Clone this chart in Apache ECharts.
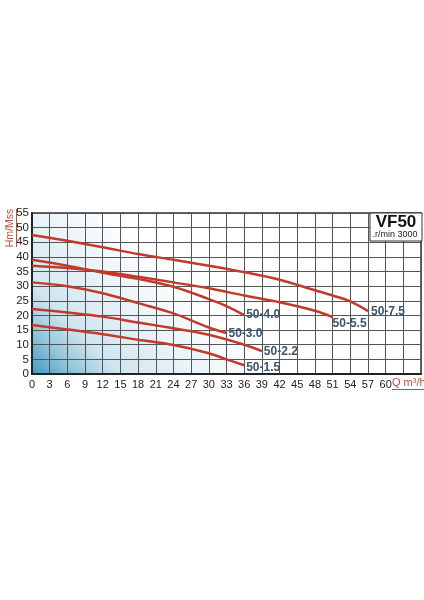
<!DOCTYPE html>
<html><head><meta charset="utf-8">
<script src="https://cdn.jsdelivr.net/npm/echarts@6/dist/echarts.min.js"></script>
<style>html,body{margin:0;padding:0;background:#fff}#c{width:424px;height:600px}</style>
</head><body><div id="c"></div>
<script>
const seriesNames = ['50-7.5','50-5.5','50-4.0','50-3.0','50-2.2','50-1.5'];
const q75 = [0,6,12,18,24,30,36,42,48,51,54,57];
const h75 = [47.5,45.5,43.3,41,39,37,34.8,32.2,28.6,26.8,24.8,21.5];
const q55 = [0,6,12,18,24,30,36,42,48,51];
const h55 = [37,36.2,35,33.2,31.3,29.3,26.8,24.5,21.6,19.4];
const q40 = [0,6,12,18,24,30,33,36];
const h40 = [39,37,34.6,32.5,29.8,25.6,23.2,20.1];
const q30 = [0,6,12,18,24,30,33];
const h30 = [31.3,30,27.6,24.2,20.7,15.9,14];
const q22 = [0,6,12,18,24,30,36,39];
const h22 = [22.2,21,19.6,17.6,15.6,13.4,10,7.8];
const q15 = [0,6,12,18,24,30,33,36];
const h15 = [16.7,15.2,13.6,11.7,9.9,7.1,5,3];
const xTickMax = 60;

const FONT = "'Liberation Sans','Arial',sans-serif";
const pairs = (q,h) => q.map((v,i)=>[v,h[i]]);
const sets = [[q75,h75],[q55,h55],[q40,h40],[q30,h30],[q22,h22],[q15,h15]];
const labelOffsets = [[1,1],[-2,6],[0,0],[0,1],[0,1],[0,2]];

const chart = echarts.init(document.getElementById('c'));
chart.setOption({
  animation:false,
  grid:{left:32,right:2,top:213,bottom:226,show:true,
    backgroundColor:{type:'linear',x:0,y:1,x2:0.31,y2:0.25,colorStops:[
      {offset:0,color:'#4597bb'},{offset:0.065,color:'#5aa8c8'},
      {offset:0.2,color:'#95c6dc'},{offset:0.37,color:'#cfe5ef'},
      {offset:0.68,color:'#e9f3f8'},{offset:1,color:'#ffffff'}]},
    borderColor:'#333',borderWidth:1.5},
  xAxis:{type:'value',min:0,max:66,interval:3,
    axisLine:{show:true,lineStyle:{color:'#222',width:2}},
    axisTick:{show:false},
    splitLine:{show:true,lineStyle:{color:'#555',width:1}},
    axisLabel:{color:'#222',fontFamily:FONT,fontSize:11,margin:5,
      formatter:v=> v>xTickMax ? '' : String(v)}},
  yAxis:{type:'value',min:0,max:55,interval:5,
    axisLine:{show:true,lineStyle:{color:'#222',width:2}},
    axisTick:{show:false},
    splitLine:{show:true,lineStyle:{color:'#555',width:1}},
    axisLabel:{color:'#222',fontFamily:FONT,fontSize:11.5,margin:3,hideOverlap:false}},
  series: sets.map((s,i)=>({
    type:'line',name:seriesNames[i],data:pairs(s[0],s[1]),
    smooth:0.35,symbol:'none',
    lineStyle:{color:'#c23a2c',width:2.5},
    endLabel:{show:true,formatter:seriesNames[i],color:'#3b5472',
      fontFamily:FONT,fontSize:12,fontWeight:'bold',distance:2,offset:labelOffsets[i]}
  })),
  graphic:[
    {type:'text',x:10,y:228,rotation:Math.PI/2,z:100,
      style:{text:'Hm/Mss',fill:'#b5503f',font:'10.5px '+FONT,align:'center',verticalAlign:'middle'}},
    {type:'line',z:100,shape:{x1:16.5,y1:209,x2:16.5,y2:247},style:{stroke:'#b5503f',lineWidth:1}},
    {type:'text',x:392,y:383,z:100,
      style:{text:'Q m³/h',fill:'#b5503f',font:'11px '+FONT,align:'left',verticalAlign:'middle'}},
    {type:'line',z:100,shape:{x1:392,y1:389.5,x2:424,y2:389.5},style:{stroke:'#b5503f',lineWidth:1}},
    {type:'rect',z:100,shape:{x:370,y:213,width:52,height:28},style:{fill:'#fff',stroke:'#333',lineWidth:1}},
    {type:'text',x:396,y:222.5,z:101,
      style:{text:'VF50',fill:'#111',font:'bold 17px '+FONT,align:'center',verticalAlign:'middle'}},
    {type:'text',x:395,y:235,z:101,
      style:{text:'.r/min 3000',fill:'#222',font:'9px '+FONT,align:'center',verticalAlign:'middle'}}
  ]
});
</script></body></html>
